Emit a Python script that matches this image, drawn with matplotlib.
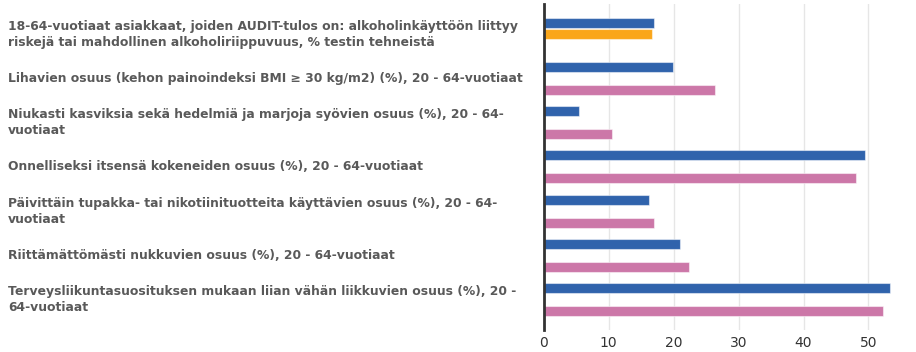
import matplotlib
matplotlib.use("Agg")
import matplotlib.pyplot as plt
import matplotlib.transforms as mtransforms
import numpy as np

# Category labels (top to bottom)
labels = [
    "18-64-vuotiaat asiakkaat, joiden AUDIT-tulos on: alkoholinkäyttöön liittyy\nriskejä tai mahdollinen alkoholiriippuvuus, % testin tehneistä",
    "Lihavien osuus (kehon painoindeksi BMI ≥ 30 kg/m2) (%), 20 - 64-vuotiaat",
    "Niukasti kasviksia sekä hedelmiä ja marjoja syövien osuus (%), 20 - 64-\nvuotiaat",
    "Onnelliseksi itsensä kokeneiden osuus (%), 20 - 64-vuotiaat",
    "Päivittäin tupakka- tai nikotiinituotteita käyttävien osuus (%), 20 - 64-\nvuotiaat",
    "Riittämättömästi nukkuvien osuus (%), 20 - 64-vuotiaat",
    "Terveysliikuntasuosituksen mukaan liian vähän liikkuvien osuus (%), 20 -\n64-vuotiaat",
]

# Three series; None = no value for that category
blue = [17.0, 19.9, 5.5, 49.5, 16.2, 21.0, 53.3]
orange = [16.6, None, None, None, None, None, None]
pink = [None, 26.4, 10.5, 48.1, 17.0, 22.4, 52.2]

series = [(blue, "#3063ac"), (orange, "#faa61a"), (pink, "#cc77a8")]

fig = plt.figure(figsize=(9.16, 3.52), dpi=100)
ax = fig.add_axes([0.5936, 0.0625, 0.3864, 0.9265])

y = np.arange(len(labels))
offsets = [-0.26, 0.0, 0.26]
for (vals, col), off in zip(series, offsets):
    for i, v in enumerate(vals):
        if v is None:
            continue
        ax.barh(y[i] + off, v, height=0.225, color=col,
                edgecolor=(1, 1, 1, 0.5), linewidth=0.8, zorder=3)

ax.set_ylim(len(labels) - 1 + 0.69, -0.69)
ax.set_xlim(0, 54.5)
ax.set_xticks([0, 10, 20, 30, 40, 50])
ax.set_yticks([])
ax.grid(axis="x", color="#e6e6e6", linewidth=1, zorder=0)
for s in ["top", "right", "bottom"]:
    ax.spines[s].set_visible(False)
ax.spines["left"].set_color("#333333")
ax.spines["left"].set_linewidth(2)
ax.spines["left"].set_zorder(4)
ax.tick_params(axis="x", length=0, labelsize=10, labelcolor="#333333", pad=4)

# category labels sit at the far left of the figure
trans = mtransforms.blended_transform_factory(fig.transFigure, ax.transData)
for i, lab in enumerate(labels):
    ax.text(8 / 916, y[i], lab, transform=trans, ha="left", va="center",
            fontsize=8.9, fontweight="bold", color="#595959", linespacing=1.3,
            clip_on=False)

fig.savefig("out.png", dpi=100)
